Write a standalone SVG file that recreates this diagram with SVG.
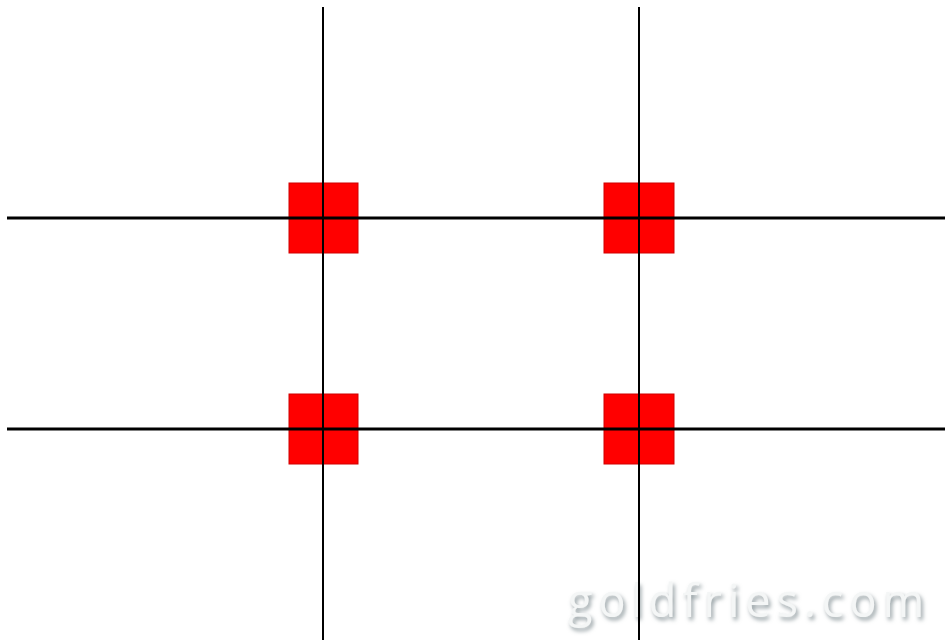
<svg xmlns="http://www.w3.org/2000/svg" width="945" height="640" viewBox="0 0 945 640">
<defs>
<style>
.h{stroke:#000;stroke-width:3}
.v{stroke:#000;stroke-width:2}
.sq{fill:#ff0000;stroke:#d00000;stroke-width:1}
.wm{font-family:"Open Sans",sans-serif;font-size:45px;letter-spacing:6px}
</style>
<filter id="shadow" x="-10%" y="-30%" width="120%" height="160%">
<feGaussianBlur in="SourceAlpha" stdDeviation="2"/>
<feOffset dx="2" dy="3" result="b"/>
<feFlood flood-color="#8f9a9e"/>
<feComposite in2="b" operator="in" result="s"/>
<feMerge><feMergeNode in="s"/><feMergeNode in="SourceGraphic"/></feMerge>
</filter>
</defs>
<rect width="945" height="640" fill="#fff"/>
<g id="points">
<rect id="p1" class="sq" x="289" y="183" width="69" height="70"/>
<rect id="p2" class="sq" x="604" y="183" width="70" height="70"/>
<rect id="p3" class="sq" x="289" y="394" width="69" height="70"/>
<rect id="p4" class="sq" x="604" y="394" width="70" height="70"/>
</g>
<g id="watermark">
<text class="wm" x="568" y="617" fill="#f4f6f6" filter="url(#shadow)">goldfries.com</text>
</g>
<g id="lines">
<line class="h" x1="7" y1="218" x2="945" y2="218"/>
<line class="h" x1="7" y1="429" x2="945" y2="429"/>
<line class="v" x1="323" y1="7" x2="323" y2="640"/>
<line class="v" x1="639" y1="7" x2="639" y2="640"/>
</g>
</svg>
